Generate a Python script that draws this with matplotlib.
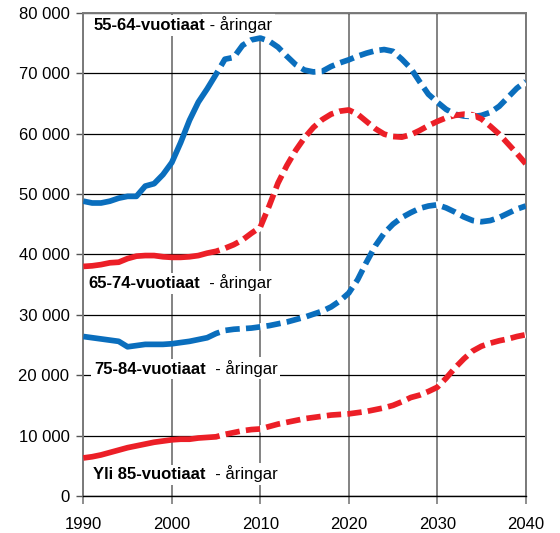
import matplotlib.pyplot as plt
from matplotlib.ticker import FuncFormatter, MultipleLocator

# Population by age group, 1990-2040 (solid = actual, dashed = projection)
years = list(range(1990, 2041))
last_actual = 2005

age_55_64 = [48800, 48500, 48500, 48800, 49300, 49600, 49600, 51300, 51700, 53200,
             55200, 58500, 62200, 65200, 67400, 69800, 72300, 72600, 74600, 75500,
             75800, 75300, 74300, 72800, 71400, 70500, 70200, 70300, 71100, 71700,
             72200, 72800, 73300, 73700, 73900, 73600, 72300, 70800, 68600, 66500,
             65200, 64000, 63200, 62900, 62800, 63000, 63500, 64500, 66000, 67500,
             68600]
age_65_74 = [38000, 38100, 38300, 38600, 38700, 39300, 39700, 39800, 39800, 39600,
             39500, 39500, 39600, 39800, 40200, 40500, 41000, 41600, 42400, 43500,
             44500, 48000, 51800, 54700, 57200, 59300, 61000, 62300, 63200, 63700,
             63900, 63200, 62000, 60800, 59900, 59500, 59400, 59800, 60500, 61300,
             62000, 62600, 63000, 63200, 63100, 62400, 61200, 59900, 58300, 56700,
             55000]
age_75_84 = [26400, 26200, 26000, 25800, 25600, 24700, 24900, 25100, 25100, 25100,
             25200, 25400, 25600, 25900, 26200, 26900, 27400, 27600, 27700, 27800,
             28000, 28200, 28500, 28800, 29200, 29600, 30100, 30600, 31300, 32300,
             33600, 35800, 38700, 41400, 43500, 45000, 46100, 46900, 47600, 48000,
             48200, 47700, 47000, 46200, 45600, 45400, 45600, 46100, 46800, 47500,
             48000]
age_85_plus = [6300, 6500, 6800, 7200, 7600, 8000, 8300, 8600, 8900, 9100,
               9300, 9400, 9400, 9600, 9700, 9800, 10200, 10500, 10800, 11000,
               11100, 11500, 11900, 12200, 12500, 12800, 13000, 13200, 13400, 13500,
               13600, 13800, 14000, 14300, 14600, 15000, 15600, 16300, 16700, 17300,
               18000, 19500, 21200, 22700, 24000, 24800, 25300, 25700, 26000, 26400,
               26700]

label_fi = ["55-64-vuotiaat", "65-74-vuotiaat", "75-84-vuotiaat", "Yli 85-vuotiaat"]
label_sv = [" - åringar", "  - åringar", "  - åringar", "  - åringar"]
label_pos = [(1991.1, 77900), (1990.6, 35200), (1991.2, 21000), (1991.1, 3500)]

blue = "#0A6EBD"
red = "#EC1F27"
colors = [blue, red, blue, red]
series = [age_55_64, age_65_74, age_75_84, age_85_plus]

plt.rcParams['font.family'] = ['Liberation Sans', 'DejaVu Sans']

fig = plt.figure(figsize=(5.6, 5.33), dpi=100)
ax = fig.add_axes([0.1488, 0.0694, 0.79, 0.9068])

i0 = years.index(last_actual)
for vals, col in zip(series, colors):
    ax.plot(years, vals, color=col, lw=4.1, solid_capstyle='butt', zorder=3)
    # white gaps over the projection part
    ax.plot(years[i0:], vals[i0:], color='white', lw=5.3,
            linestyle=(2.3, (0.85, 1.95)), zorder=3.1)

for fi, sv, (x, y) in zip(label_fi, label_sv, label_pos):
    t = ax.text(x, y, fi, fontsize=12, fontweight='bold', ha='left', va='center',
                bbox=dict(facecolor='white', edgecolor='none', pad=2), zorder=2.6)
    ax.annotate(sv, xy=(1, 0), xycoords=t, ha='left', va='bottom', fontsize=12,
                bbox=dict(facecolor='white', edgecolor='none', pad=2), zorder=2.5)

ax.set_xlim(1990, 2040)
ax.set_ylim(0, 80000)
ax.xaxis.set_major_locator(MultipleLocator(10))
ax.yaxis.set_major_locator(MultipleLocator(10000))
ax.yaxis.set_major_formatter(FuncFormatter(lambda v, p: "0" if v == 0 else f"{int(v):,}".replace(",", " ")))

ax.set_axisbelow(True)
ax.yaxis.grid(True, color='black', lw=0.9)
ax.xaxis.grid(True, color='#7a7a7a', lw=1.3)

for s in ['left', 'right', 'top']:
    ax.spines[s].set_color('#7a7a7a')
    ax.spines[s].set_linewidth(1.4)
ax.spines['bottom'].set_color('black')
ax.spines['bottom'].set_linewidth(1.0)

ax.tick_params(axis='y', length=5, width=1, color='#555555', pad=5, labelsize=12)
ax.tick_params(axis='x', length=6, width=1.2, color='#7a7a7a', pad=9, labelsize=12)

fig.savefig("out.png", dpi=100)
